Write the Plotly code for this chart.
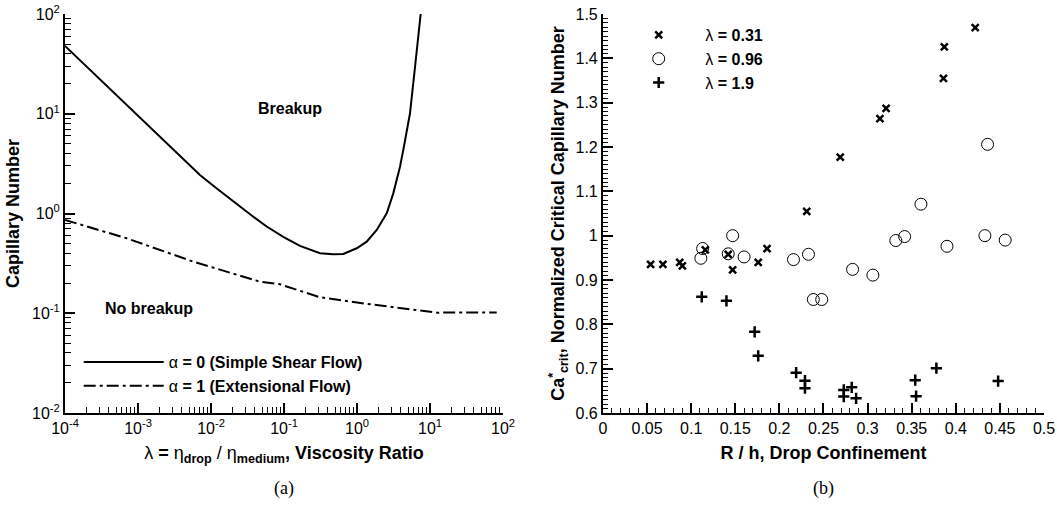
import plotly.graph_objects as go

# ---------------- data: panel (a) ----------------
lam_shear = [1.0e-4, 3.16e-4, 1.0e-3, 3.16e-3, 7.06e-3, 0.0120, 0.0202, 0.0361, 0.0579,
             0.0977, 0.1656, 0.311, 0.473, 0.649, 0.991, 1.358, 1.862, 2.553, 3.141,
             3.882, 4.305, 5.32, 6.24, 7.45]
ca_shear = [47.8, 21.4, 9.5, 4.27, 2.43, 1.78, 1.32, 0.955, 0.741,
            0.582, 0.473, 0.399, 0.390, 0.393, 0.448, 0.522, 0.684, 1.005, 1.592,
            2.944, 4.33, 10.1, 29.6, 100.0]

lam_ext = [1.0e-4, 7.0e-4, 5.73e-3, 0.0469, 0.0881, 0.311, 1.507, 7.29, 12.4, 82.0]
ca_ext = [0.861, 0.564, 0.329, 0.207, 0.195, 0.1445, 0.123, 0.1054, 0.1014, 0.102]

log_tick_vals = [1e-4, 1e-3, 1e-2, 1e-1, 1, 10, 100]
log_tick_text = ["10<sup>-4</sup>", "10<sup>-3</sup>", "10<sup>-2</sup>", "10<sup>-1</sup>",
                 "10<sup>0</sup>", "10<sup>1</sup>", "10<sup>2</sup>"]
y_tick_vals = [1e-2, 1e-1, 1, 10, 100]
y_tick_text = ["10<sup>-2</sup>", "10<sup>-1</sup>", "10<sup>0</sup>", "10<sup>1</sup>", "10<sup>2</sup>"]

# ---------------- data: panel (b) ----------------
x_031 = [0.054, 0.068, 0.087, 0.090, 0.116, 0.142, 0.147, 0.176, 0.186, 0.231,
         0.269, 0.314, 0.321, 0.386, 0.387, 0.422]
y_031 = [0.935, 0.935, 0.940, 0.932, 0.968, 0.958, 0.923, 0.940, 0.971, 1.055,
         1.177, 1.264, 1.287, 1.355, 1.426, 1.469]

x_096 = [0.111, 0.113, 0.142, 0.147, 0.160, 0.216, 0.233, 0.2385, 0.248, 0.283,
         0.306, 0.332, 0.342, 0.3605, 0.390, 0.433, 0.436, 0.456]
y_096 = [0.949, 0.971, 0.959, 1.000, 0.952, 0.946, 0.958, 0.856, 0.856, 0.924,
         0.911, 0.989, 0.998, 1.071, 0.976, 1.000, 1.206, 0.990]

x_19 = [0.112, 0.140, 0.172, 0.176, 0.219, 0.229, 0.229, 0.273, 0.273, 0.282,
        0.287, 0.354, 0.355, 0.378, 0.448]
y_19 = [0.862, 0.853, 0.783, 0.729, 0.691, 0.673, 0.656, 0.652, 0.637, 0.658,
        0.633, 0.674, 0.638, 0.701, 0.672]

FONT = "Liberation Sans, Arial, sans-serif"
NB = "\u00a0"

fig = go.Figure()

fig.add_trace(go.Scatter(x=lam_shear, y=ca_shear, mode="lines",
                         line=dict(color="black", width=2),
                         name="α<b> = 0 (Simple Shear Flow)</b>",
                         xaxis="x", yaxis="y", legend="legend"))
fig.add_trace(go.Scatter(x=lam_ext, y=ca_ext, mode="lines",
                         line=dict(color="black", width=2, dash="12px,4px,3px,4px"),
                         name="α<b> = 1 (Extensional Flow)</b>",
                         xaxis="x", yaxis="y", legend="legend"))

fig.add_trace(go.Scatter(x=x_031, y=y_031, mode="markers",
                         marker=dict(symbol="x-thin", size=7, color="black",
                                     line=dict(color="black", width=2.5)),
                         name=NB * 6 + "λ<b> = 0.31</b>",
                         xaxis="x2", yaxis="y2", legend="legend2"))
fig.add_trace(go.Scatter(x=x_096, y=y_096, mode="markers",
                         marker=dict(symbol="circle-open", size=12, color="black",
                                     line=dict(color="black", width=1)),
                         name=NB * 6 + "λ<b> = 0.96</b>",
                         xaxis="x2", yaxis="y2", legend="legend2"))
fig.add_trace(go.Scatter(x=x_19, y=y_19, mode="markers",
                         marker=dict(symbol="cross-thin", size=8, color="black",
                                     line=dict(color="black", width=2.5)),
                         name=NB * 6 + "λ<b> = 1.9</b>",
                         xaxis="x2", yaxis="y2", legend="legend2"))

axis_common = dict(showline=True, linecolor="black", linewidth=2, mirror=False,
                   showgrid=False, zeroline=False, ticks="inside", ticklen=10,
                   tickwidth=1.5, tickcolor="black", automargin=False,
                   tickfont=dict(family=FONT, size=16, color="black"))

TITLE_FONT = dict(family=FONT, size=18, color="black")

fig.update_layout(
    template="none",
    width=1057, height=510,
    margin=dict(l=65, r=13, t=14, b=97, pad=0),
    paper_bgcolor="white", plot_bgcolor="white",
    font=dict(family=FONT, color="black"),
    xaxis=dict(domain=[0, 0.4474], type="log", range=[-4, 2],
               tickvals=log_tick_vals, ticktext=log_tick_text, anchor="y",
               minor=dict(ticks="inside", ticklen=6, tickwidth=1, tickcolor="black",
                          dtick="D1", showgrid=False),
               title=dict(text="λ <b>=</b> η<sub><b>drop</b></sub> / η<sub><b>medium</b></sub><b>, Viscosity Ratio</b>",
                          font=TITLE_FONT, standoff=10),
               **axis_common),
    yaxis=dict(domain=[0, 1], type="log", range=[-2, 2],
               tickvals=y_tick_vals, ticktext=y_tick_text, anchor="x",
               minor=dict(ticks="inside", ticklen=6, tickwidth=1, tickcolor="black",
                          dtick="D1", showgrid=False),
               title=dict(text="<b>Capillary Number</b>", font=TITLE_FONT, standoff=8),
               **axis_common),
    xaxis2=dict(domain=[0.5495, 1], range=[0, 0.5], dtick=0.05, tick0=0, anchor="y2",
                minor=dict(ticks="inside", ticklen=5, tickwidth=1, tickcolor="black",
                           dtick=0.01, showgrid=False),
                title=dict(text="<b>R / h, Drop Confinement</b>", font=TITLE_FONT, standoff=10),
                **axis_common),
    yaxis2=dict(domain=[0, 1], range=[0.6, 1.5], dtick=0.1, tick0=0.6, anchor="x2",
                minor=dict(ticks="inside", ticklen=5, tickwidth=1, tickcolor="black",
                           dtick=0.01, showgrid=False),
                title=dict(text="<b>Ca<sup>*</sup><sub>crit</sub>, Normalized Critical Capillary Number</b>",
                           font=TITLE_FONT, standoff=6),
                **axis_common),
    legend=dict(x=0.014, y=0.17, xanchor="left", yanchor="top",
                bgcolor="rgba(0,0,0,0)", borderwidth=0,
                font=dict(family=FONT, size=16, color="black"),
                itemwidth=80, tracegroupgap=0),
    legend2=dict(x=0.586, y=0.99, xanchor="left", yanchor="top",
                 bgcolor="rgba(0,0,0,0)", borderwidth=0,
                 font=dict(family=FONT, size=16, color="black"),
                 tracegroupgap=0),
    showlegend=True,
    annotations=[
        dict(text="<b>Breakup</b>", x=-0.918, y=1.048, xref="x", yref="y",
             showarrow=False, font=dict(family=FONT, size=16, color="black")),
        dict(text="<b>No breakup</b>", x=-2.85, y=-0.957, xref="x", yref="y",
             showarrow=False, font=dict(family=FONT, size=16, color="black")),
        dict(text="(a)", x=0.2237, y=-0.188, xref="paper", yref="paper",
             xanchor="center", yanchor="middle", showarrow=False,
             font=dict(family="Liberation Serif, serif", size=18, color="black")),
        dict(text="(b)", x=0.7745, y=-0.188, xref="paper", yref="paper",
             xanchor="center", yanchor="middle", showarrow=False,
             font=dict(family="Liberation Serif, serif", size=18, color="black")),
    ],
)

fig.write_html("out.html")
